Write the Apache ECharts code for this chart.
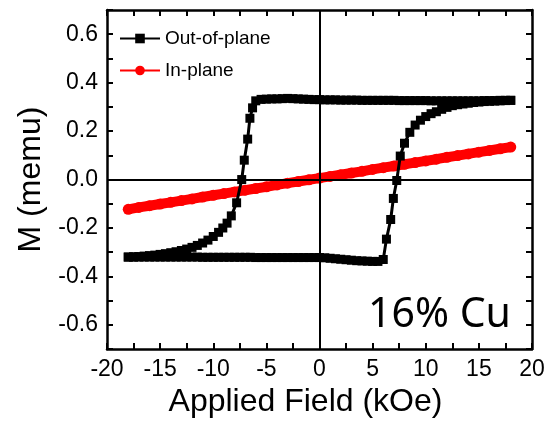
<!DOCTYPE html>
<html>
<head>
<meta charset="utf-8">
<script src="https://cdn.jsdelivr.net/npm/echarts@6/dist/echarts.min.js"></script>
<style>
  html, body { margin: 0; padding: 0; background: #fff; }
  #chart { width: 550px; height: 423px; }
</style>
</head>
<body>
<div id="chart"></div>
<script>
  // out-of-plane loop, descending branch (+18 -> -18 kOe)
  const downField = [18, 17.5, 17, 16.5, 16, 15.5, 15, 14.5, 14, 13.5, 13, 12.5, 12, 11.5, 11, 10.5, 10, 9.5, 9, 8.5, 8, 7.5, 7, 6.5, 6, 5.5, 5, 4.5, 4, 3.5, 3, 2.5, 2, 1.5, 1, 0.5, 0, -0.5, -1, -1.5, -2, -2.5, -3, -3.5, -4, -4.5, -5, -5.5, -6, -6.3, -6.55, -6.76, -7.08, -7.32, -7.8, -8.3, -8.7, -9.1, -9.5, -10, -10.5, -11, -11.5, -12, -12.5, -13, -13.5, -14, -14.5, -15, -15.5, -16, -16.5, -17, -17.5, -18];
  const downM = [0.327, 0.327, 0.327, 0.326, 0.326, 0.326, 0.325, 0.325, 0.325, 0.325, 0.325, 0.325, 0.325, 0.325, 0.325, 0.325, 0.326, 0.326, 0.326, 0.326, 0.326, 0.326, 0.327, 0.327, 0.327, 0.327, 0.327, 0.327, 0.327, 0.328, 0.328, 0.328, 0.328, 0.329, 0.329, 0.329, 0.330, 0.330, 0.331, 0.332, 0.333, 0.334, 0.335, 0.334, 0.333, 0.333, 0.332, 0.331, 0.325, 0.296, 0.253, 0.167, 0.080, 0.000, -0.096, -0.150, -0.180, -0.200, -0.218, -0.235, -0.250, -0.262, -0.272, -0.280, -0.287, -0.293, -0.298, -0.302, -0.306, -0.309, -0.312, -0.314, -0.316, -0.318, -0.319, -0.320];

  // out-of-plane loop, ascending branch (-18 -> +18 kOe)
  const upField = [-18, -17.5, -17, -16.5, -16, -15.5, -15, -14.5, -14, -13.5, -13, -12.5, -12, -11.5, -11, -10.5, -10, -9.5, -9, -8.5, -8, -7.5, -7, -6.5, -6, -5.5, -5, -4.5, -4, -3.5, -3, -2.5, -2, -1.5, -1, -0.5, 0, 0.5, 1, 1.5, 2, 2.5, 3, 3.5, 4, 4.5, 5, 5.5, 6, 6.3, 6.7, 6.95, 7.27, 7.6, 8, 8.5, 9, 9.5, 10, 10.5, 11, 11.5, 12, 12.5, 13, 13.5, 14, 14.5, 15, 15.5, 16, 16.5, 17, 17.5, 18];
  const upM = [-0.320, -0.320, -0.320, -0.320, -0.320, -0.320, -0.320, -0.320, -0.320, -0.320, -0.320, -0.320, -0.320, -0.320, -0.321, -0.321, -0.321, -0.321, -0.321, -0.321, -0.321, -0.321, -0.321, -0.321, -0.322, -0.322, -0.322, -0.322, -0.322, -0.322, -0.322, -0.322, -0.322, -0.322, -0.322, -0.322, -0.322, -0.323, -0.325, -0.327, -0.329, -0.331, -0.333, -0.335, -0.336, -0.337, -0.338, -0.338, -0.330, -0.246, -0.165, -0.078, -0.004, 0.097, 0.150, 0.195, 0.225, 0.245, 0.260, 0.272, 0.280, 0.290, 0.298, 0.305, 0.309, 0.312, 0.315, 0.318, 0.320, 0.322, 0.323, 0.324, 0.325, 0.326, 0.327];

  // in-plane
  const inField = [-18, -17, -16, -15, -14, -13, -12, -11, -10, -9, -8, -7, -6, -5, -4, -3, -2, -1, 0, 1, 2, 3, 4, 5, 6, 7, 8, 9, 10, 11, 12, 13, 14, 15, 16, 17, 18];
  const inM = [-0.123, -0.115, -0.108, -0.101, -0.094, -0.087, -0.080, -0.072, -0.065, -0.058, -0.051, -0.044, -0.037, -0.030, -0.022, -0.015, -0.008, -0.001, 0.006, 0.013, 0.020, 0.027, 0.034, 0.042, 0.049, 0.056, 0.063, 0.070, 0.077, 0.084, 0.092, 0.099, 0.106, 0.113, 0.120, 0.127, 0.134];

  const fieldTicks = [-20, -15, -10, -5, 0, 5, 10, 15, 20];
  const mTicks = [-0.6, -0.4, -0.2, 0.0, 0.2, 0.4, 0.6];

  const font = '"Liberation Sans", Arial, sans-serif';

  const outData = downField.map((x, i) => [x, downM[i]])
    .concat(upField.map((x, i) => [x, upM[i]]));
  const inData = inField.map((x, i) => [x, inM[i]]);

  const chart = echarts.init(document.getElementById('chart'));

  const axisLine = { show: true, onZero: false, lineStyle: { color: '#000', width: 2.5 } };
  const axisTick = { show: true, inside: true, length: 6, lineStyle: { color: '#000', width: 2 } };

  const option = {
    animation: false,
    backgroundColor: '#fff',
    grid: { left: 107, right: 18, top: 10, bottom: 67 },
    legend: {
      left: 114,
      top: 24,
      orient: 'vertical',
      itemWidth: 40,
      itemHeight: 12,
      itemGap: 13,
      textStyle: { color: '#000', fontSize: 19, fontFamily: font },
      data: ['Out-of-plane', 'In-plane'],
    },
    xAxis: [
      {
        type: 'value',
        min: -20,
        max: 20,
        interval: 2.5,
        axisLine: axisLine,
        axisTick: axisTick,
        splitLine: { show: false },
        axisLabel: {
          interval: 0,
          color: '#000',
          fontSize: 23,
          fontFamily: font,
          margin: 9,
          formatter: (v) => (fieldTicks.includes(v) ? String(v) : ''),
        },
        name: 'Applied Field (kOe)',
        nameLocation: 'middle',
        nameGap: 22,
        nameTextStyle: { color: '#000', fontSize: 32, fontFamily: font, padding: [0, 28, 0, 0] },
      },
      {
        type: 'value',
        position: 'top',
        min: -20,
        max: 20,
        interval: 2.5,
        axisLine: axisLine,
        axisTick: axisTick,
        axisLabel: { show: false },
        splitLine: { show: false },
      },
    ],
    yAxis: [
      {
        type: 'value',
        min: -0.7,
        max: 0.7,
        interval: 0.1,
        axisLine: axisLine,
        axisTick: axisTick,
        splitLine: { show: false },
        axisLabel: {
          color: '#000',
          fontSize: 23,
          fontFamily: font,
          margin: 9,
          formatter: (v) => {
            const r = Math.round(v * 10) / 10;
            return mTicks.some((t) => Math.abs(t - r) < 1e-6) ? r.toFixed(1) : '';
          },
        },
        name: 'M (memu)',
        nameLocation: 'middle',
        nameGap: 55,
        nameTextStyle: { color: '#000', fontSize: 32, fontFamily: font },
      },
      {
        type: 'value',
        position: 'right',
        min: -0.7,
        max: 0.7,
        interval: 0.1,
        axisLine: axisLine,
        axisTick: axisTick,
        axisLabel: { show: false },
        splitLine: { show: false },
      },
    ],
    graphic: [
      {
        type: 'text',
        left: 368,
        top: 295,
        style: { text: '16% Cu', fill: '#000', fontSize: 41, fontFamily: '"Noto Sans", "Open Sans", sans-serif' },
      },
    ],
    series: [
      {
        name: 'zero',
        type: 'line',
        data: [],
        silent: true,
        markLine: {
          silent: true,
          symbol: 'none',
          label: { show: false },
          lineStyle: { color: '#000', width: 2, type: 'solid' },
          data: [{ xAxis: 0 }, { yAxis: 0 }],
        },
        z: 1,
      },
      {
        name: 'In-plane',
        type: 'line',
        data: inData,
        symbol: 'circle',
        symbolSize: 11,
        showAllSymbol: true,
        color: '#ff0000',
        itemStyle: { color: '#ff0000' },
        lineStyle: { color: '#ff0000', width: 10 },
        z: 3,
      },
      {
        name: 'Out-of-plane',
        type: 'line',
        data: outData,
        symbol: 'rect',
        symbolSize: 9,
        showAllSymbol: true,
        color: '#000',
        itemStyle: { color: '#000' },
        lineStyle: { color: '#000', width: 3 },
        z: 4,
      },
    ],
  };

  chart.setOption(option);
</script>
</body>
</html>
